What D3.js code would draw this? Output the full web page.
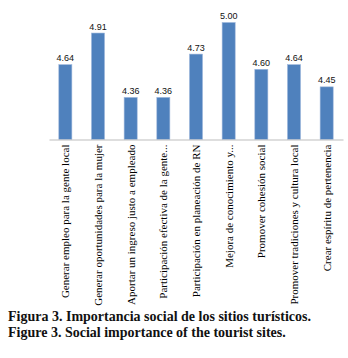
<!DOCTYPE html>
<html lang="es">
<head>
    <meta charset="UTF-8">
    <title>Figura 3</title>
    <style>
        body { margin: 0; background: #fff; }
    </style>
</head>
<body>
    <svg id="container" width="348" height="358">
        <g id="bars"></g>
        <g id="xAxis"></g>
        <g id="caption"></g>
    </svg>

<script src="https://cdn.jsdelivr.net/npm/d3@7"></script>
<script>

    let categories = [
        "Generar empleo para la gente local",
        "Generar oportunidades para la mujer",
        "Aportar un ingreso justo a empleado",
        "Participación efectiva de la gente...",
        "Participación en planeación de RN",
        "Mejora de conocimiento y...",
        "Promover cohesión social",
        "Promover tradiciones y cultura local",
        "Crear espíritu de pertenencia"
    ]
    let values = [4.64, 4.91, 4.36, 4.36, 4.73, 5.00, 4.60, 4.64, 4.45]
    let captionLines = [
        "Figura 3. Importancia social de los sitios turísticos.",
        "Figure 3. Social importance of the tourist sites."
    ]

    let svg = d3.select("#container")

    let xScale = d3.scaleBand()
        .domain(categories)
        .range([49, 343])
        .paddingInner(0.6)
        .paddingOuter(0.3)

    let yScale = d3.scaleLinear()
        .domain([4, 5])
        .range([139.5, 22.5])

    let data = categories.map((c, i) => ({ name: c, value: values[i] }))

    let bars = d3.select("#bars")

    bars.selectAll("rect")
        .data(data)
        .enter()
        .append("rect")
        .attr("x", d => xScale(d.name))
        .attr("y", d => yScale(d.value))
        .attr("width", xScale.bandwidth())
        .attr("height", d => yScale(4) - yScale(d.value))
        .attr("fill", "#4f81bd")
        .attr("stroke", "#9fb8dc")
        .attr("stroke-width", 0.6)

    bars.selectAll("text")
        .data(data)
        .enter()
        .append("text")
        .attr("x", d => xScale(d.name) + xScale.bandwidth() / 2)
        .attr("y", d => yScale(d.value) - 3.5)
        .attr("text-anchor", "middle")
        .attr("font-family", "Liberation Sans, Arial, sans-serif")
        .attr("font-size", "9px")
        .attr("fill", "#111")
        .text(d => d.value.toFixed(2))

    // category axis, labels rotated
    let xAxis = d3.axisBottom(xScale)
        .tickSize(0)
        .tickPadding(0)

    let gx = d3.select("#xAxis")
        .attr("transform", "translate(0," + yScale(4) + ")")
        .call(xAxis)

    gx.select(".domain")
        .attr("stroke", "#bdbdbd")
        .attr("stroke-width", 1)

    gx.selectAll(".tick text")
        .attr("transform", "rotate(-90)")
        .attr("x", -5)
        .attr("y", 0)
        .attr("dy", "0.35em")
        .attr("text-anchor", "end")
        .attr("font-family", "Liberation Serif, Times New Roman, serif")
        .attr("font-size", "11px")
        .attr("fill", "#000")

    d3.select("#caption")
        .selectAll("text")
        .data(captionLines)
        .enter()
        .append("text")
        .attr("x", 8)
        .attr("y", (d, i) => 321 + i * 16)
        .attr("font-family", "Liberation Serif, Times New Roman, serif")
        .attr("font-weight", "bold")
        .attr("font-size", "14px")
        .attr("fill", "#111")
        .text(d => d)

</script>
</body>
</html>
